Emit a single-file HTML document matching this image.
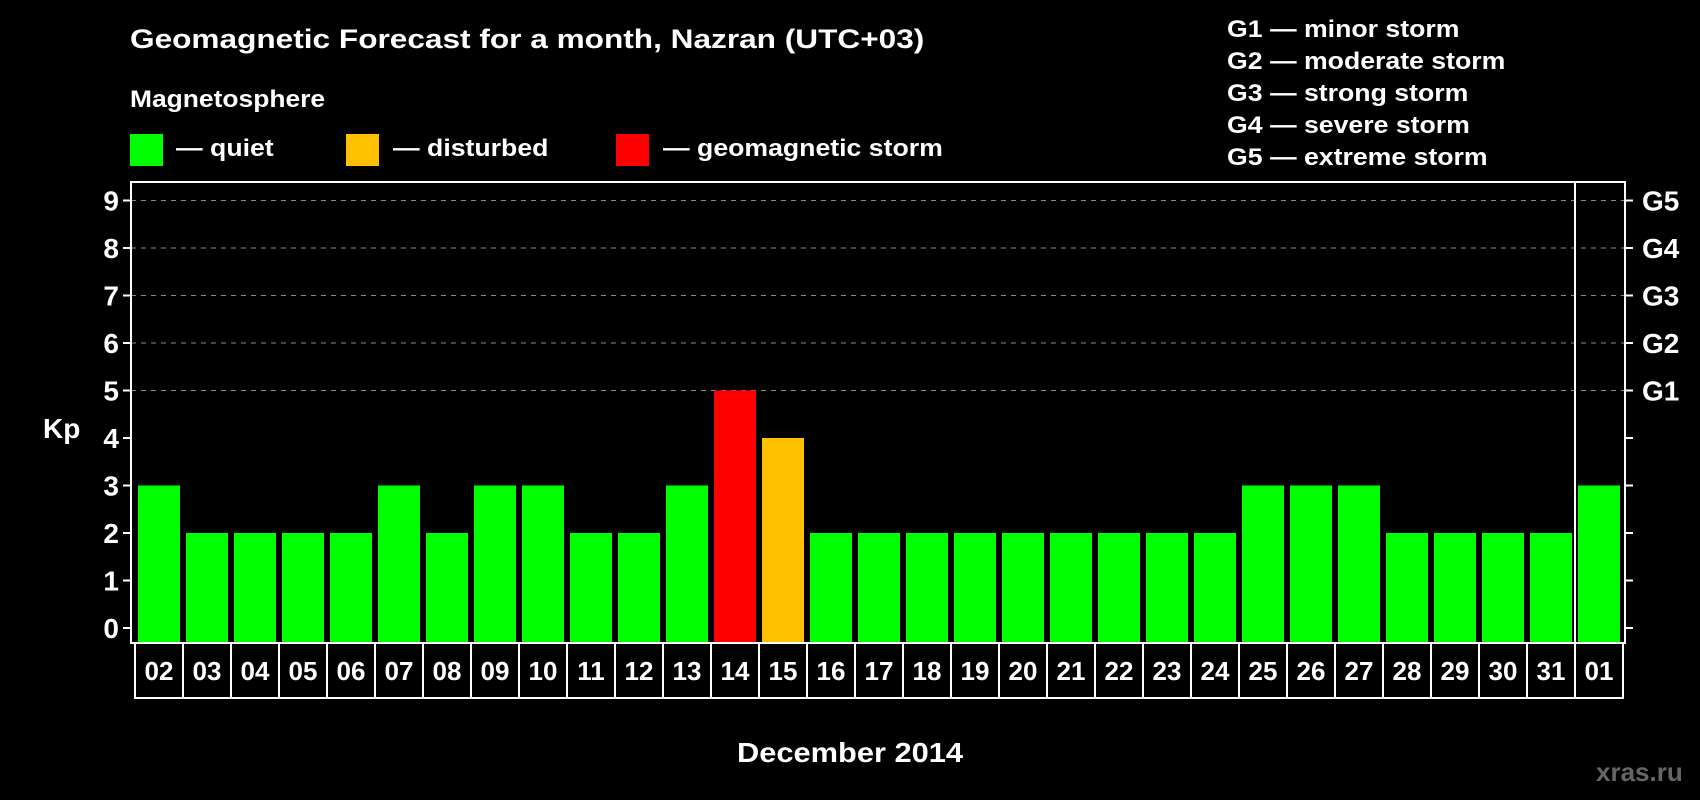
<!DOCTYPE html>
<html><head><meta charset="utf-8"><style>
body{margin:0;background:#000;width:1700px;height:800px;overflow:hidden;font-family:"Liberation Sans",sans-serif;font-weight:bold;color:#fff}
.t{position:absolute;white-space:nowrap;transform-origin:0 0}
.sq{position:absolute;width:33px;height:32px}
</style></head><body>
<div class="t" style="left:130px;top:24px;font-size:27px;transform:scaleX(1.17)">Geomagnetic Forecast for a month, Nazran (UTC+03)</div>
<div class="t" style="left:130px;top:86px;font-size:24px;transform:scaleX(1.1)">Magnetosphere</div>
<div class="sq" style="left:130px;top:134px;background:#00ff00"></div>
<div class="t" style="left:176px;top:135px;font-size:24px;transform:scaleX(1.11)">— quiet</div>
<div class="sq" style="left:346px;top:134px;background:#ffc000"></div>
<div class="t" style="left:393px;top:135px;font-size:24px;transform:scaleX(1.11)">— disturbed</div>
<div class="sq" style="left:616px;top:134px;background:#ff0000"></div>
<div class="t" style="left:663px;top:135px;font-size:24px;transform:scaleX(1.11)">— geomagnetic storm</div>
<div class="t" style="left:1227px;top:14px;font-size:24px;line-height:32px;transform:scaleX(1.11)">G1 — minor storm<br>G2 — moderate storm<br>G3 — strong storm<br>G4 — severe storm<br>G5 — extreme storm</div>
<div class="t" style="left:737px;top:737px;font-size:28px;transform:scaleX(1.1)">December 2014</div>
<div class="t" style="left:1596px;top:757px;font-size:26px;color:#666">xras.ru</div>
<svg id="c" width="1700" height="800" style="position:absolute;left:0;top:0" font-family="Liberation Sans, sans-serif" font-weight="bold"></svg>
<script>
const days=["02","03","04","05","06","07","08","09","10","11","12","13","14","15","16","17","18","19","20","21","22","23","24","25","26","27","28","29","30","31","01"];
const kp=[3,2,2,2,2,3,2,3,3,2,2,3,5,4,2,2,2,2,2,2,2,2,2,3,3,3,2,2,2,2,3];
const yTicks=[0,1,2,3,4,5,6,7,8,9];
const gLabels=["G1","G2","G3","G4","G5"];
const svg=document.getElementById('c');const NS='http://www.w3.org/2000/svg';
function mk(t,a,p){const e=document.createElementNS(NS,t);for(const k in a)e.setAttribute(k,a[k]);(p||svg).appendChild(e);return e;}
const L=131,R=1625,T=182,B=643,x0=135,pitch=48;
const y=v=>628-v*47.5;
const x=i=>x0+i*pitch;
yTicks.forEach(v=>{
 if(v>=5){const g=mk('line',{x1:L,x2:R,y1:y(v),y2:y(v),stroke:'#888','stroke-dasharray':'5,5','stroke-width':1});}
 mk('line',{x1:L-8,x2:L,y1:y(v),y2:y(v),stroke:'#fff','stroke-width':2});
 mk('line',{x1:R,x2:R+8,y1:y(v),y2:y(v),stroke:'#fff','stroke-width':2});
 const t=mk('text',{x:L-12,y:y(v)+10,'text-anchor':'end','font-size':28,fill:'#fff'});t.textContent=v;
 
 
});
gLabels.forEach((g,i)=>{const t=mk('text',{x:1642,y:y(i+5)+10,'font-size':28,fill:'#fff'});t.textContent=g;
 
 });
const kt=mk('text',{x:43,y:438,'font-size':28,fill:'#fff'});kt.textContent='Kp';


const col=v=>v>=5?'#ff0000':(v>=4?'#ffc000':'#00ff00');
kp.forEach((v,i)=>{const r=mk('rect',{x:x(i)+3,y:y(v),width:42,height:B-y(v),fill:col(v)});
 
 });
mk('rect',{x:L,y:T,width:R-L,height:B-T,fill:'none',stroke:'#fff','stroke-width':2});
mk('line',{x1:x(days.length-1),x2:x(days.length-1),y1:T,y2:B,stroke:'#fff','stroke-width':2});
days.forEach((d,i)=>{mk('rect',{x:x(i),y:B,width:pitch,height:55,fill:'none',stroke:'#fff','stroke-width':2});
 const t=mk('text',{x:x(i)+pitch/2,y:B+37,'text-anchor':'middle','font-size':26,fill:'#fff'});t.textContent=d;
 
 });
</script>
</body></html>
